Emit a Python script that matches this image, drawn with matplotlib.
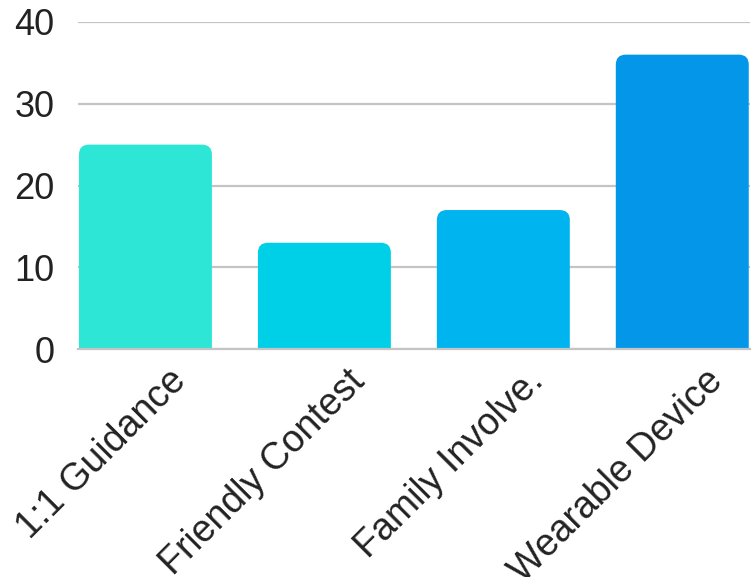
from matplotlib import pyplot as plt
from matplotlib.patches import FancyBboxPatch
from matplotlib.transforms import ScaledTranslation

categories = ['1:1 Guidance', 'Friendly Contest', 'Family Involve.', 'Wearable Device']
values = [25, 13, 17, 36]
colors = ['#2EE6D6', '#00CFE8', '#00B4F0', '#0496E8']
y_ticks = [0, 10, 20, 30, 40]

plt.rcParams['font.family'] = ['Liberation Sans', 'DejaVu Sans']

fig = plt.figure(figsize=(7.52, 5.77), dpi=100)
ax = fig.add_axes([0.1037, 0.395, 0.8933, 0.567])

x = range(len(categories))
bar_w = 0.743
ax.set_xlim(-0.377, 3.377)
ax.set_ylim(0, 40)

# rounded top corners: box reaches below the axis and is clipped there
w_px = ax.get_position().width * fig.get_figwidth() * fig.dpi
h_px = ax.get_position().height * fig.get_figheight() * fig.dpi
x_per_px = (3.377 + 0.377) / w_px
y_per_px = 40 / h_px
radius = 10 * x_per_px
for xi, v, c in zip(x, values, colors):
    box = FancyBboxPatch((xi - bar_w / 2, -5), bar_w, v + 5,
                         boxstyle=f'round,pad=0,rounding_size={radius}',
                         mutation_aspect=y_per_px / x_per_px,
                         facecolor=c, edgecolor='none', zorder=2)
    ax.add_patch(box)

ax.set_yticks(y_ticks)
ax.grid(axis='y', color='#c4c4c4', linewidth=1.6, zorder=0)
ax.set_axisbelow(True)
for side in ['top', 'right', 'left']:
    ax.spines[side].set_visible(False)
ax.spines['bottom'].set_color('#c4c4c4')
ax.spines['bottom'].set_linewidth(1.6)
ax.spines['bottom'].set_zorder(3)

ax.set_xticks(list(x))
ax.set_xticklabels(categories, rotation=45, ha='right', rotation_mode='anchor')
ax.tick_params(axis='both', length=0, colors='#222222')
ax.tick_params(axis='y', pad=17, labelsize=26)
ax.tick_params(axis='x', pad=10, labelsize=27)
shift = ScaledTranslation(22 / 100, 0, fig.dpi_scale_trans)
for lbl in ax.get_xticklabels():
    lbl.set_transform(lbl.get_transform() + shift)

fig.savefig('out.png', dpi=100)
